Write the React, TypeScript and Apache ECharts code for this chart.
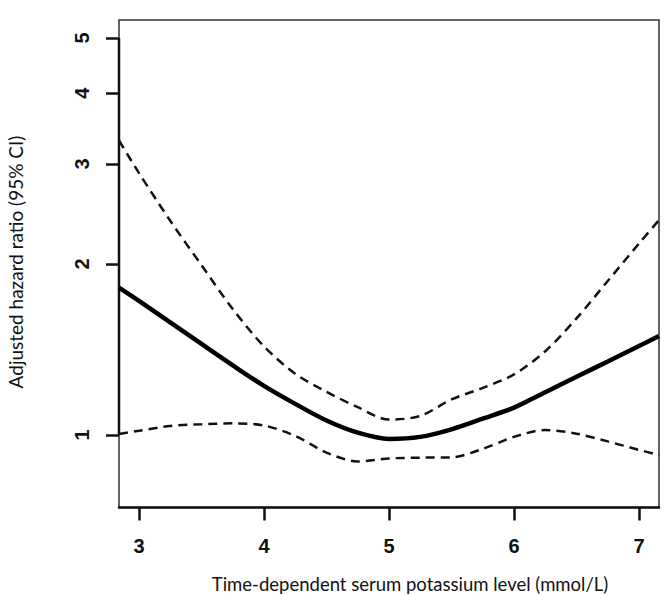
import React, { useEffect, useRef } from "react";
import * as echarts from "echarts";

const potassium = [2.84, 3.0, 3.25, 3.5, 3.75, 4.0, 4.25, 4.5, 4.75, 5.0, 5.25, 5.5, 5.75, 6.0, 6.25, 6.5, 6.75, 7.0, 7.16];
const hazardRatio = [1.818, 1.722, 1.578, 1.446, 1.326, 1.22, 1.134, 1.06, 1.009, 0.984, 0.992, 1.023, 1.068, 1.117, 1.189, 1.266, 1.347, 1.434, 1.493];
const upperCI = [3.3, 2.892, 2.383, 1.99, 1.666, 1.432, 1.281, 1.191, 1.119, 1.064, 1.08, 1.155, 1.21, 1.278, 1.404, 1.604, 1.867, 2.173, 2.39];
const lowerCI = [1.004, 1.017, 1.037, 1.044, 1.048, 1.039, 0.996, 0.931, 0.898, 0.909, 0.912, 0.913, 0.945, 0.992, 1.02, 1.005, 0.974, 0.941, 0.922];

const xTicks = [3, 4, 5, 6, 7];
const yTicks = [1, 2, 3, 4, 5];
const xRange = [2.84, 7.16];
const yRange = [0.745, 5.38];

const xTitle = "Time-dependent serum potassium level (mmol/L)";
const yTitle = "Adjusted hazard ratio (95% CI)";

const ln = Math.log;
const pairs = (ys: number[]) => potassium.map((x, i) => [x, ln(ys[i])]);

export default function App() {
  const ref = useRef<HTMLDivElement>(null);
  useEffect(() => {
    document.body.style.margin = "0";
    const chart = echarts.init(ref.current!, null, { renderer: "svg" });
    const labelFont = { fontFamily: "Liberation Sans, Arial, sans-serif", fontWeight: "bold" as const, fontSize: 20, color: "#111" };
    const curve = { smooth: 0.3, symbol: "none" };
    chart.setOption({
      animation: false,
      backgroundColor: "#fff",
      grid: {
        left: 119,
        top: 20,
        width: 540,
        height: 487.5,
        show: true,
        borderColor: "#333",
        borderWidth: 1.5,
        backgroundColor: "transparent",
      },
      xAxis: {
        type: "value",
        min: xRange[0],
        max: xRange[1],
        axisLine: { show: true, onZero: false, lineStyle: { color: "#111", width: 2.5 } },
        axisTick: { show: true, customValues: xTicks, length: 13, lineStyle: { color: "#111", width: 2.5 } },
        axisLabel: { customValues: xTicks, margin: 28, ...labelFont, formatter: (v: number) => String(Math.round(v)) },
        splitLine: { show: false },
      },
      yAxis: {
        type: "value",
        min: ln(yRange[0]),
        max: ln(yRange[1]),
        axisLine: { show: false },
        axisTick: { show: true, customValues: yTicks.map(ln), length: 13, lineStyle: { color: "#111", width: 2.5 } },
        axisLabel: {
          customValues: yTicks.map(ln),
          rotate: 90,
          margin: 27,
          ...labelFont,
          formatter: (v: number) => String(Math.round(Math.exp(v))),
        },
        splitLine: { show: false },
      },
      graphic: [
        {
          type: "text",
          x: 410,
          y: 584,
          style: {
            text: xTitle,
            font: "18.5px Lato, 'Open Sans', sans-serif",
            fill: "#111",
            align: "center",
            verticalAlign: "middle",
          },
        },
        {
          type: "text",
          x: 15,
          y: 262,
          rotation: Math.PI / 2,
          style: {
            text: yTitle,
            font: "19px Lato, 'Open Sans', sans-serif",
            fill: "#111",
            align: "center",
            verticalAlign: "middle",
          },
        },
      ],
      series: [
        {
          type: "line",
          data: [
            [xRange[0], ln(yTicks[0])],
            [xRange[0], ln(yTicks[yTicks.length - 1])],
          ],
          symbol: "none",
          clip: false,
          lineStyle: { color: "#111", width: 2.5 },
          silent: true,
        },
        {
          type: "line",
          data: pairs(upperCI),
          ...curve,
          lineStyle: { color: "#111", width: 2.5, type: [9, 6] },
        },
        {
          type: "line",
          data: pairs(lowerCI),
          ...curve,
          lineStyle: { color: "#111", width: 2.5, type: [9, 6] },
        },
        {
          type: "line",
          data: pairs(hazardRatio),
          ...curve,
          lineStyle: { color: "#000", width: 4.5 },
        },
      ],
    });
    return () => chart.dispose();
  }, []);
  return <div ref={ref} style={{ width: 664, height: 595 }} />;
}
